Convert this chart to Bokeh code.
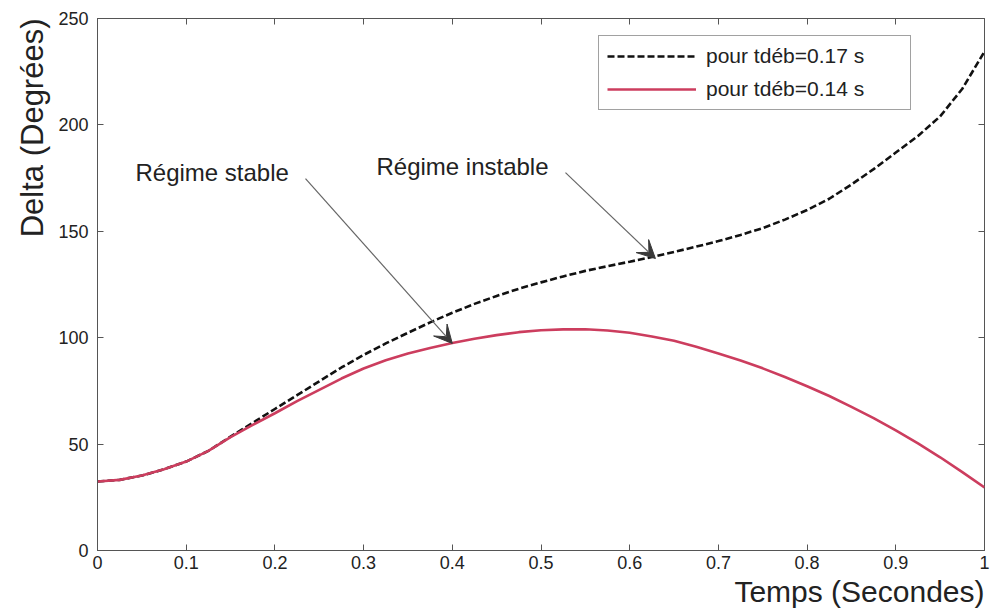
from bokeh.plotting import figure
from bokeh.models import (Label, Arrow, VeeHead, LinearAxis, FixedTicker, Legend,
                          LegendItem, Range1d, Title)
from bokeh.embed import file_html
from bokeh.resources import INLINE

# ---- data ----
TIME = [0.0, 0.025, 0.05, 0.075, 0.1, 0.125, 0.15, 0.175, 0.2, 0.225, 0.25, 0.275,
        0.3, 0.325, 0.35, 0.375, 0.4, 0.425, 0.45, 0.475, 0.5, 0.525, 0.55, 0.575,
        0.6, 0.625, 0.65, 0.675, 0.7, 0.725, 0.75, 0.775, 0.8, 0.825, 0.85, 0.875,
        0.9, 0.925, 0.95, 0.975, 1.0]
DELTA_017 = [32.4, 33.2, 35.2, 38.2, 41.8, 46.8, 53.5, 60.0, 66.5, 73.0, 79.5, 86.0,
             91.9, 97.3, 102.3, 107.2, 111.7, 115.9, 119.6, 123.0, 126.0, 128.8, 131.4, 133.6,
             135.7, 137.9, 140.3, 142.8, 145.4, 148.3, 151.5, 155.5, 160.0, 165.3, 172.0, 179.2,
             187.0, 194.8, 204.0, 217.0, 234.5]
DELTA_014 = [32.4, 33.2, 35.2, 38.2, 41.8, 46.8, 53.3, 59.0, 64.5, 70.2, 75.5, 80.8,
             85.5, 89.4, 92.6, 95.2, 97.5, 99.5, 101.2, 102.6, 103.5, 103.9, 104.0, 103.4,
             102.3, 100.6, 98.6, 95.8, 92.6, 89.3, 85.6, 81.5, 77.2, 72.6, 67.5, 62.2,
             56.4, 50.3, 43.8, 36.8, 29.6]

X_TICKS = [0, 0.1, 0.2, 0.3, 0.4, 0.5, 0.6, 0.7, 0.8, 0.9, 1]
X_TICK_LABELS = ["0", "0.1", "0.2", "0.3", "0.4", "0.5", "0.6", "0.7", "0.8", "0.9", "1"]
Y_TICKS = [0, 50, 100, 150, 200, 250]

LEGEND_LABELS = ["pour tdéb=0.17 s", "pour tdéb=0.14 s"]
X_LABEL = "Temps (Secondes)"
Y_LABEL = "Delta (Degrées)"
NOTE_STABLE = "Régime stable"
NOTE_UNSTABLE = "Régime instable"

FONT = "Liberation Sans"
TXT = "#222222"
FRAME = "#555555"
RED = "#cc3d5e"

p = figure(width=1002, height=615, frame_width=887, frame_height=532,
           x_range=Range1d(0, 1), y_range=Range1d(0, 250),
           output_backend="svg", toolbar_location=None,
           min_border_left=97, min_border_right=18, min_border_top=18, min_border_bottom=65,
           background_fill_color="white", border_fill_color="white")
p.outline_line_color = FRAME
p.outline_line_width = 1
p.xgrid.visible = False
p.ygrid.visible = False

for ax in (p.xaxis[0], p.yaxis[0]):
    ax.major_tick_in = 6
    ax.major_tick_out = 0
    ax.minor_tick_line_color = None
    ax.axis_line_color = FRAME
    ax.major_tick_line_color = FRAME
    ax.major_label_text_font = FONT
    ax.major_label_text_font_size = "18px"
    ax.major_label_text_color = TXT

p.xaxis[0].ticker = FixedTicker(ticks=X_TICKS)
p.xaxis[0].major_label_overrides = {t: l for t, l in zip(X_TICKS, X_TICK_LABELS)}
p.xaxis[0].major_label_standoff = 5
p.yaxis[0].ticker = FixedTicker(ticks=Y_TICKS)
p.yaxis[0].major_label_standoff = 9

# axis titles, aligned to the ends of the axes as in the reference
p.add_layout(Title(text=Y_LABEL, align="right", text_font=FONT, text_font_size="31px",
                   text_font_style="normal", text_color=TXT, standoff=12), "left")
p.add_layout(Title(text=X_LABEL, align="right", text_font=FONT, text_font_size="30px",
                   text_font_style="normal", text_color=TXT, standoff=2), "below")

# box ticks on top/right
top_ax = LinearAxis(ticker=FixedTicker(ticks=X_TICKS))
top_ax.major_label_overrides = {t: "" for t in X_TICKS}
right_ax = LinearAxis(ticker=FixedTicker(ticks=Y_TICKS))
right_ax.major_label_overrides = {t: "" for t in Y_TICKS}
for ax in (top_ax, right_ax):
    ax.major_tick_in = 6
    ax.major_tick_out = 0
    ax.minor_tick_line_color = None
    ax.axis_line_color = None
    ax.major_tick_line_color = FRAME
    ax.major_label_standoff = 0
p.add_layout(top_ax, "above")
p.add_layout(right_ax, "right")

r_black = p.line(TIME, DELTA_017, line_color="#111111", line_width=2.6, line_dash="7 3")
r_red = p.line(TIME, DELTA_014, line_color=RED, line_width=2.6)

legend = Legend(items=[LegendItem(label=LEGEND_LABELS[0], renderers=[r_black]),
                       LegendItem(label=LEGEND_LABELS[1], renderers=[r_red])],
                location=(501, 440), orientation="vertical",
                glyph_width=89, glyph_height=24, label_height=24, label_width=196,
                spacing=9, padding=8, margin=0, label_standoff=10,
                label_text_font=FONT, label_text_font_size="21px", label_text_color=TXT,
                border_line_color="#444444", border_line_width=1,
                background_fill_color="white", background_fill_alpha=1)
p.add_layout(legend)

# annotations
p.add_layout(Label(x=0.0428, y=177.6, text=NOTE_STABLE, text_font=FONT,
                   text_font_size="24px", text_color=TXT, text_baseline="alphabetic"))
p.add_layout(Label(x=0.3145, y=180.6, text=NOTE_UNSTABLE, text_font=FONT,
                   text_font_size="24px", text_color=TXT, text_baseline="alphabetic"))

head_kw = dict(size=18, fill_color="#3a3a3a", line_color="#3a3a3a", line_width=1)
p.add_layout(Arrow(end=VeeHead(**head_kw), x_start=0.2345, y_start=174.8,
                   x_end=0.400, y_end=97.3, line_color="#666666", line_width=1.2))
p.add_layout(Arrow(end=VeeHead(**head_kw), x_start=0.5276, y_start=177.6,
                   x_end=0.629, y_end=137.2, line_color="#666666", line_width=1.2))

open("out.html", "w").write(file_html(p, INLINE))
